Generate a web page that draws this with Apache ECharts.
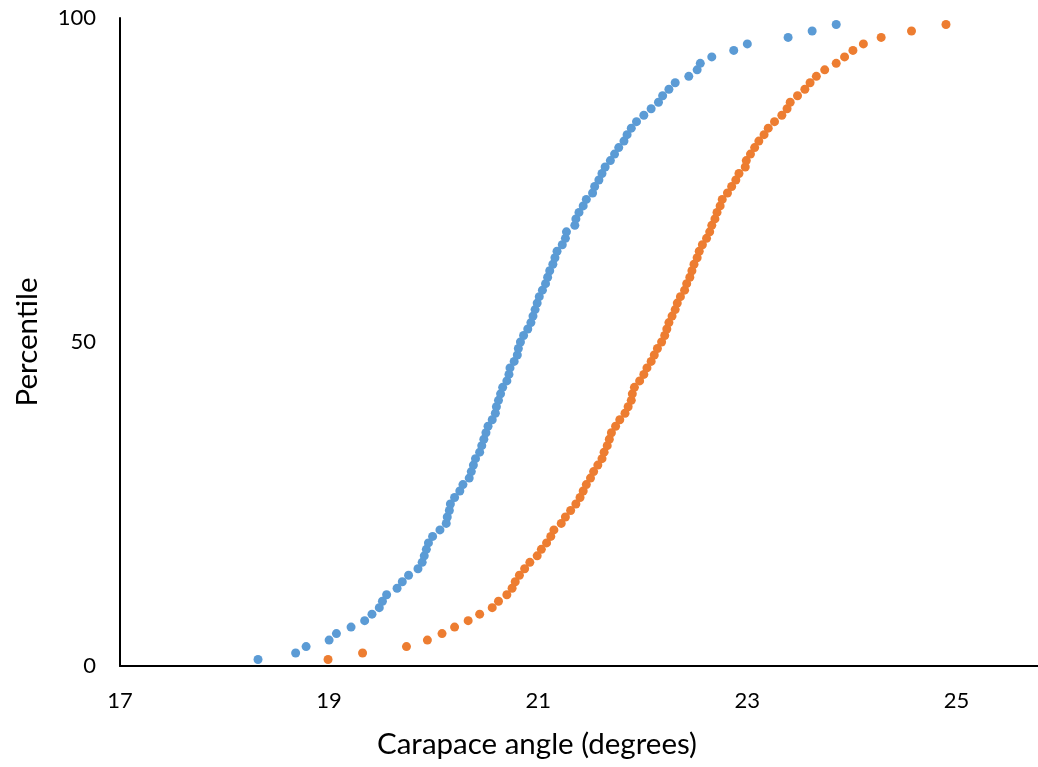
<!DOCTYPE html>
<html>
<head>
<meta charset="utf-8">
<script src="https://cdn.jsdelivr.net/npm/echarts@6/dist/echarts.min.js"></script>
<style>
  html, body { margin: 0; padding: 0; background: #ffffff; overflow: hidden; }
  #chart { width: 1038px; height: 767px; }
</style>
</head>
<body>
<div id="chart"></div>
<script>
// Percentile ranks shared by both samples (1st to 99th)
const percentiles = Array.from({ length: 99 }, (_, i) => i + 1);

// Carapace angle (degrees) at each percentile, first sample
const seriesBlue = [
  18.32, 18.68, 18.78, 19.00, 19.07, 19.21, 19.34, 19.41, 19.48, 19.51,
  19.55, 19.65, 19.70, 19.76, 19.85, 19.89, 19.91, 19.93, 19.95, 19.99,
  20.06, 20.12, 20.13, 20.15, 20.16, 20.20, 20.25, 20.28, 20.34, 20.36,
  20.38, 20.40, 20.44, 20.46, 20.48, 20.50, 20.52, 20.56, 20.59, 20.60,
  20.62, 20.64, 20.66, 20.70, 20.72, 20.73, 20.77, 20.80, 20.81, 20.83,
  20.86, 20.90, 20.93, 20.95, 20.97, 20.99, 21.01, 21.04, 21.07, 21.09,
  21.11, 21.14, 21.16, 21.18, 21.23, 21.26, 21.27, 21.35, 21.36, 21.39,
  21.43, 21.46, 21.52, 21.54, 21.58, 21.61, 21.64, 21.69, 21.73, 21.77,
  21.82, 21.85, 21.89, 21.94, 22.01, 22.08, 22.15, 22.19, 22.25, 22.31,
  22.44, 22.52, 22.55, 22.66, 22.87, 23.00, 23.39, 23.62, 23.85
];

// Carapace angle (degrees) at each percentile, second sample
const seriesOrange = [
  18.99, 19.32, 19.74, 19.94, 20.08, 20.20, 20.33, 20.44, 20.56, 20.62,
  20.70, 20.75, 20.78, 20.82, 20.87, 20.92, 20.99, 21.03, 21.08, 21.12,
  21.15, 21.22, 21.26, 21.31, 21.36, 21.40, 21.43, 21.46, 21.50, 21.53,
  21.57, 21.61, 21.63, 21.66, 21.68, 21.70, 21.74, 21.78, 21.83, 21.86,
  21.89, 21.90, 21.92, 21.97, 22.01, 22.04, 22.08, 22.11, 22.14, 22.18,
  22.21, 22.23, 22.25, 22.28, 22.31, 22.33, 22.36, 22.40, 22.42, 22.45,
  22.47, 22.49, 22.52, 22.54, 22.57, 22.61, 22.64, 22.66, 22.69, 22.71,
  22.74, 22.76, 22.81, 22.85, 22.89, 22.92, 22.98, 22.99, 23.03, 23.07,
  23.11, 23.16, 23.20, 23.26, 23.33, 23.38, 23.41, 23.48, 23.55, 23.60,
  23.66, 23.74, 23.85, 23.93, 24.01, 24.11, 24.28, 24.57, 24.90
];

// Axis ranges and tick spacing
const xRange = [17, 25.78];
const xStep = 2;
const yRange = [0, 100];
const yStep = 50;

const FONT = 'Lato, "Open Sans", sans-serif';

const pairs = (xs) => xs.map((x, i) => [x, percentiles[i]]);

const chart = echarts.init(document.getElementById('chart'), null, { renderer: 'canvas' });

chart.setOption({
  backgroundColor: '#ffffff',
  animation: false,
  grid: { left: 120, top: 18, bottom: 101, right: 0, containLabel: false },
  xAxis: {
    type: 'value',
    min: xRange[0],
    max: xRange[1],
    interval: xStep,
    name: 'Carapace angle (degrees)',
    nameLocation: 'middle',
    nameGap: 63,
    nameTextStyle: {
      fontFamily: FONT, fontSize: 29.5, color: '#000000',
      padding: [0, 84, 0, 0]
    },
    axisLine: { show: true, lineStyle: { color: '#000000', width: 2 } },
    axisTick: { show: false },
    splitLine: { show: false },
    axisLabel: {
      fontFamily: FONT, fontSize: 22, color: '#000000', margin: 24,
      showMaxLabel: false
    }
  },
  yAxis: {
    type: 'value',
    min: yRange[0],
    max: yRange[1],
    interval: yStep,
    name: 'Percentile',
    nameLocation: 'middle',
    nameGap: 78,
    nameRotate: 90,
    nameTextStyle: { fontFamily: FONT, fontSize: 29.5, color: '#000000' },
    axisLine: { show: true, lineStyle: { color: '#000000', width: 2 } },
    axisTick: { show: false },
    splitLine: { show: false },
    axisLabel: { fontFamily: FONT, fontSize: 22, color: '#000000', margin: 24 }
  },
  series: [
    {
      type: 'scatter',
      data: pairs(seriesBlue),
      symbol: 'circle',
      symbolSize: 9,
      itemStyle: { color: '#5B9BD5', opacity: 1 }
    },
    {
      type: 'scatter',
      data: pairs(seriesOrange),
      symbol: 'circle',
      symbolSize: 9,
      itemStyle: { color: '#ED7D31', opacity: 1 }
    }
  ]
});
</script>
</body>
</html>
